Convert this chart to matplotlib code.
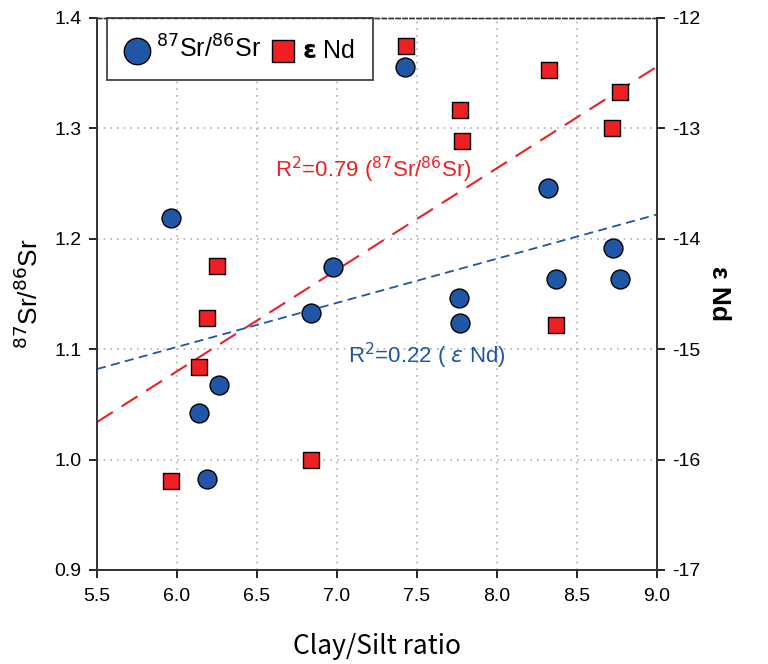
import matplotlib
matplotlib.use("Agg")
import matplotlib.pyplot as plt
from matplotlib.ticker import FormatStrFormatter, MultipleLocator

plt.rcParams['font.family'] = ['Liberation Sans', 'DejaVu Sans']
plt.rcParams['axes.unicode_minus'] = False

# Data
sr_x = [5.96, 6.14, 6.26, 6.19, 6.84, 6.975, 7.425, 7.76, 7.77, 8.32, 8.37, 8.725, 8.77]
sr_y = [1.219, 1.042, 1.068, 0.982, 1.133, 1.174, 1.356, 1.146, 1.124, 1.246, 1.164, 1.192, 1.164]

nd_x = [5.96, 6.14, 6.19, 6.25, 6.84, 7.43, 7.77, 7.78, 8.325, 8.37, 8.72, 8.77]
nd_y = [-16.19, -15.16, -14.72, -14.25, -16.0, -12.25, -12.83, -13.11, -12.47, -14.78, -13.0, -12.67]

fit_x = [5.5, 9.0]
red_fit_y = [1.034, 1.356]
blue_fit_y = [1.082, 1.222]

blue = '#1f56a8'
red = '#ee2024'

fig = plt.figure(figsize=(7.68, 6.64), dpi=100)
ax = fig.add_axes([0.1263, 0.1416, 0.7292, 0.8313])
ax2 = ax.twinx()

ax.set_xlim(5.5, 9.0)
ax.set_ylim(0.9, 1.4)
ax2.set_ylim(-17, -12)

ax.grid(True, linestyle=(0, (1, 3)), color='#b0b0b0', linewidth=1.2)
ax.set_axisbelow(True)

ax.plot(fit_x, red_fit_y, color=red, linestyle=(0, (9, 5)), linewidth=1.5, zorder=2)
ax.plot(fit_x, blue_fit_y, color=blue, linestyle=(0, (5, 3)), linewidth=1.3, zorder=2)

h1 = ax.scatter(sr_x, sr_y, s=185, marker='o', facecolor=blue, edgecolor='black', linewidth=1.0, zorder=4)
h2 = ax2.scatter(nd_x, nd_y, s=135, marker='s', facecolor=red, edgecolor='black', linewidth=1.0, zorder=4)

ax.xaxis.set_major_locator(MultipleLocator(0.5))
ax.yaxis.set_major_locator(MultipleLocator(0.1))
ax.xaxis.set_major_formatter(FormatStrFormatter('%.1f'))
ax.yaxis.set_major_formatter(FormatStrFormatter('%.1f'))
ax2.yaxis.set_major_locator(MultipleLocator(1))

for a in (ax, ax2):
    a.tick_params(direction='out', length=6, width=1.2, labelsize=14, colors='black')
    for s in a.spines.values():
        s.set_linewidth(1.2)
        s.set_color('#333333')
ax.tick_params(axis='x', pad=7)
ax.tick_params(axis='y', pad=5)
ax2.tick_params(axis='y', pad=5)
ax2.spines['top'].set_linestyle((0, (3, 2)))
ax.spines['top'].set_linestyle((0, (3, 2)))
ax2.spines['top'].set_linewidth(1.0)
ax.spines['top'].set_linewidth(1.0)

ax.set_xlabel('Clay/Silt ratio', fontsize=19, labelpad=20,
              family=['Noto Sans CJK KR', 'DejaVu Sans'])
ax.set_ylabel(r'$^{87}$Sr/$^{86}$Sr', fontsize=19, labelpad=8)
ax2.set_ylabel('\u03b5 Nd', fontsize=19, rotation=270, labelpad=22, fontweight='bold')

ax.text(6.61, 1.262, r'R$^2$=0.79 ($^{87}$Sr/$^{86}$Sr)', color=red, fontsize=16, va='center', ha='left')
ax.text(7.07, 1.094, r'R$^2$=0.22 ( $\epsilon$ Nd)', color=blue, fontsize=16, va='center', ha='left')

leg = ax.legend([h1, h2], [r'$^{87}$Sr/$^{86}$Sr', r'$\mathbf{\epsilon}$ Nd'], loc='upper left',
                ncol=2, fontsize=18, frameon=True, fancybox=False, edgecolor='#333333',
                framealpha=1.0,
                borderaxespad=0, bbox_to_anchor=(0.018, 1.0), markerscale=1.4,
                handletextpad=0.25, columnspacing=0.4, borderpad=0.7, handlelength=1.0)
leg.get_frame().set_linewidth(1.2)
leg.set_zorder(10)

fig.savefig('out.png', dpi=100)
